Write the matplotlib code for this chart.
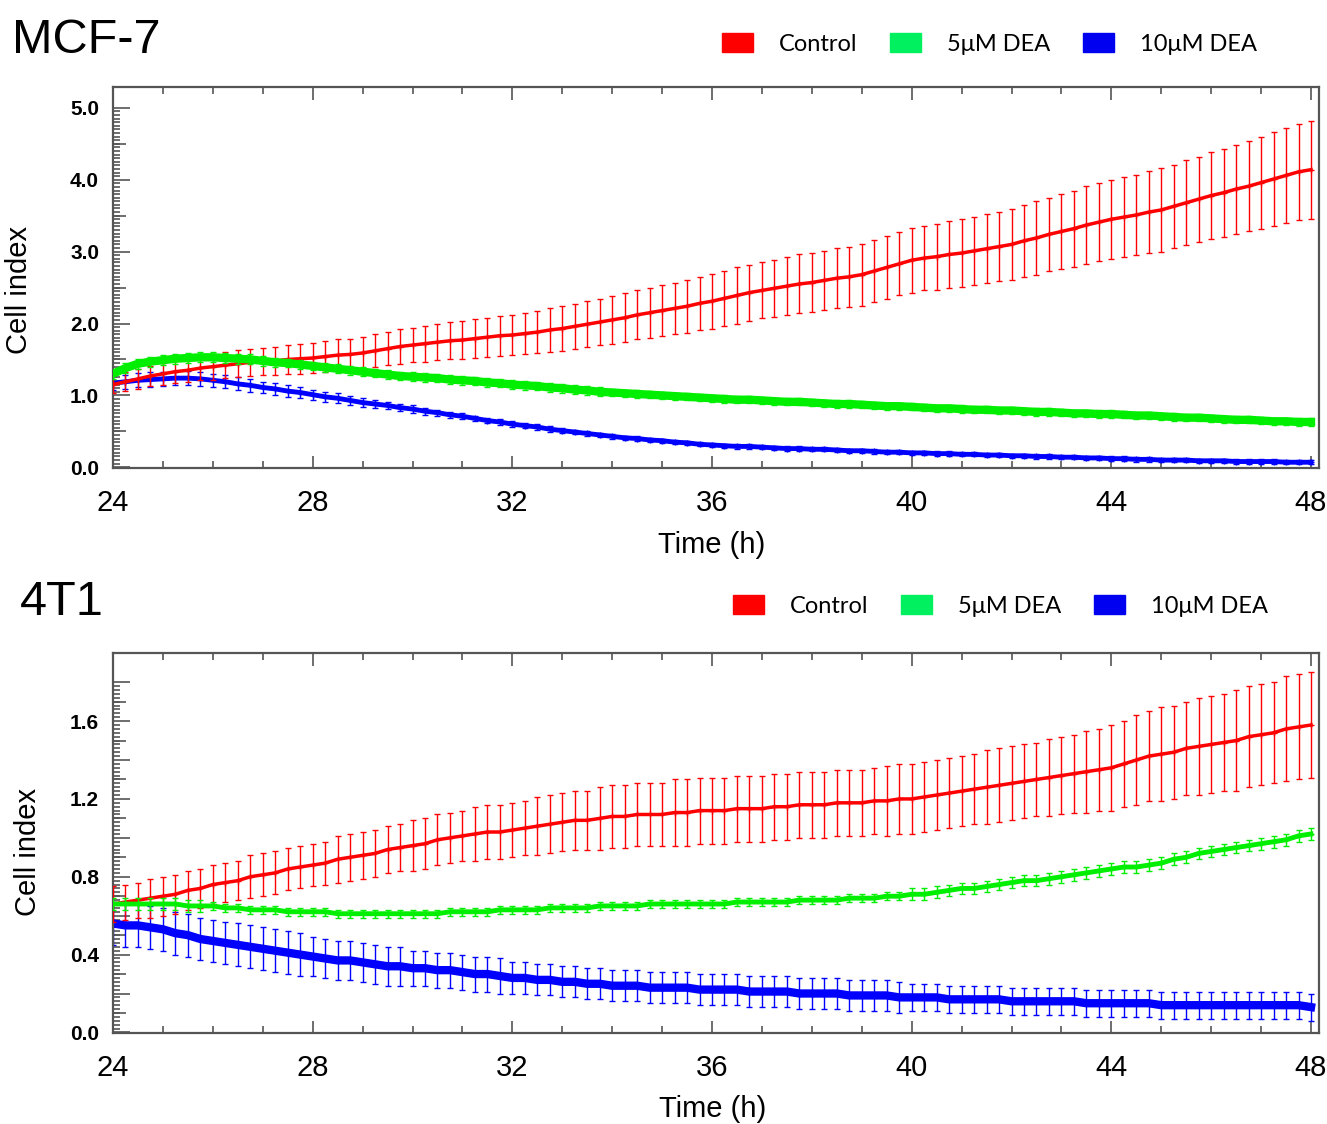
#!/usr/bin/env python
"""Cell index (real-time impedance) of MCF-7 and 4T1 cells from 24 to 48 h,
control vs 5 and 10 uM DEA. Mean +/- SD, one reading every 15 min.
"""
import numpy as np
import matplotlib
matplotlib.use('Agg')
import matplotlib.pyplot as plt
from matplotlib.patches import Patch

TIME = np.arange(24.0, 48.01, 0.25)     # h
GROUPS = ['Control', '5\u03bcM DEA', '10\u03bcM DEA']

# ── MCF-7 ──
MCF_CTRL = [
    1.15, 1.19, 1.23, 1.27, 1.30, 1.33, 1.35, 1.38,
    1.40, 1.42, 1.44, 1.46, 1.47, 1.48, 1.50, 1.51,
    1.52, 1.54, 1.56, 1.57, 1.59, 1.62, 1.65, 1.68,
    1.70, 1.72, 1.74, 1.76, 1.77, 1.79, 1.81, 1.83,
    1.84, 1.86, 1.88, 1.91, 1.93, 1.96, 1.99, 2.02,
    2.05, 2.08, 2.12, 2.15, 2.18, 2.21, 2.24, 2.28,
    2.31, 2.35, 2.39, 2.43, 2.46, 2.49, 2.52, 2.55,
    2.57, 2.60, 2.63, 2.65, 2.68, 2.73, 2.78, 2.83,
    2.88, 2.91, 2.93, 2.96, 2.98, 3.01, 3.04, 3.07,
    3.10, 3.15, 3.19, 3.24, 3.28, 3.32, 3.37, 3.41,
    3.45, 3.48, 3.51, 3.55, 3.58, 3.63, 3.68, 3.73,
    3.78, 3.82, 3.87, 3.91, 3.96, 4.01, 4.06, 4.11,
    4.14]
MCF_CTRL_SD = [
    0.12, 0.13, 0.14, 0.14, 0.15, 0.16, 0.17, 0.17,
    0.18, 0.18, 0.19, 0.19, 0.19, 0.20, 0.20, 0.21,
    0.21, 0.21, 0.22, 0.22, 0.22, 0.23, 0.23, 0.24,
    0.24, 0.25, 0.25, 0.26, 0.26, 0.27, 0.27, 0.28,
    0.28, 0.29, 0.29, 0.30, 0.31, 0.31, 0.32, 0.32,
    0.33, 0.34, 0.34, 0.35, 0.35, 0.36, 0.37, 0.37,
    0.38, 0.38, 0.39, 0.39, 0.39, 0.40, 0.40, 0.41,
    0.41, 0.41, 0.42, 0.42, 0.43, 0.43, 0.44, 0.44,
    0.45, 0.45, 0.46, 0.46, 0.47, 0.47, 0.48, 0.48,
    0.49, 0.50, 0.51, 0.51, 0.52, 0.53, 0.54, 0.54,
    0.55, 0.56, 0.56, 0.57, 0.58, 0.58, 0.59, 0.59,
    0.60, 0.61, 0.62, 0.63, 0.64, 0.65, 0.66, 0.67,
    0.68]
MCF_DEA5 = [
    1.30, 1.38, 1.44, 1.47, 1.49, 1.51, 1.52, 1.53,
    1.53, 1.52, 1.51, 1.50, 1.48, 1.46, 1.45, 1.43,
    1.41, 1.39, 1.37, 1.35, 1.33, 1.31, 1.29, 1.27,
    1.26, 1.25, 1.24, 1.22, 1.21, 1.20, 1.18, 1.17,
    1.15, 1.14, 1.13, 1.11, 1.10, 1.08, 1.07, 1.05,
    1.04, 1.03, 1.02, 1.01, 1.00, 0.99, 0.98, 0.97,
    0.96, 0.95, 0.94, 0.94, 0.93, 0.92, 0.91, 0.91,
    0.90, 0.89, 0.88, 0.88, 0.87, 0.86, 0.85, 0.85,
    0.84, 0.83, 0.82, 0.82, 0.81, 0.80, 0.80, 0.79,
    0.79, 0.78, 0.77, 0.77, 0.76, 0.75, 0.75, 0.74,
    0.74, 0.73, 0.72, 0.72, 0.71, 0.70, 0.69, 0.69,
    0.68, 0.67, 0.66, 0.66, 0.65, 0.64, 0.64, 0.63,
    0.63]
MCF_DEA5_SD = [
    0.07, 0.07, 0.07, 0.07, 0.07, 0.07, 0.07, 0.07,
    0.07, 0.07, 0.07, 0.07, 0.07, 0.06, 0.06, 0.06,
    0.06, 0.06, 0.06, 0.06, 0.06, 0.06, 0.06, 0.06,
    0.06, 0.06, 0.06, 0.06, 0.06, 0.06, 0.06, 0.06,
    0.06, 0.06, 0.06, 0.06, 0.06, 0.06, 0.06, 0.06,
    0.05, 0.05, 0.05, 0.05, 0.05, 0.05, 0.05, 0.05,
    0.05, 0.05, 0.05, 0.05, 0.05, 0.05, 0.05, 0.05,
    0.05, 0.05, 0.05, 0.05, 0.05, 0.05, 0.05, 0.05,
    0.05, 0.05, 0.05, 0.05, 0.05, 0.05, 0.05, 0.05,
    0.05, 0.05, 0.05, 0.05, 0.05, 0.05, 0.05, 0.05,
    0.05, 0.05, 0.05, 0.05, 0.05, 0.05, 0.05, 0.05,
    0.05, 0.05, 0.05, 0.05, 0.05, 0.05, 0.05, 0.05,
    0.05]
MCF_DEA10 = [
    1.17, 1.19, 1.21, 1.22, 1.23, 1.24, 1.24, 1.23,
    1.21, 1.19, 1.16, 1.14, 1.11, 1.09, 1.06, 1.04,
    1.01, 0.98, 0.96, 0.93, 0.90, 0.88, 0.86, 0.83,
    0.81, 0.78, 0.76, 0.73, 0.71, 0.68, 0.65, 0.63,
    0.60, 0.58, 0.56, 0.53, 0.51, 0.49, 0.47, 0.45,
    0.43, 0.41, 0.40, 0.38, 0.37, 0.35, 0.34, 0.32,
    0.31, 0.30, 0.29, 0.29, 0.28, 0.27, 0.26, 0.26,
    0.25, 0.25, 0.24, 0.23, 0.23, 0.22, 0.21, 0.21,
    0.20, 0.20, 0.19, 0.19, 0.18, 0.18, 0.17, 0.17,
    0.16, 0.16, 0.15, 0.15, 0.14, 0.14, 0.13, 0.13,
    0.12, 0.12, 0.11, 0.11, 0.10, 0.10, 0.10, 0.09,
    0.09, 0.09, 0.08, 0.08, 0.08, 0.08, 0.07, 0.07,
    0.07]
MCF_DEA10_SD = [
    0.10, 0.10, 0.10, 0.10, 0.10, 0.10, 0.10, 0.10,
    0.09, 0.09, 0.09, 0.09, 0.08, 0.08, 0.08, 0.08,
    0.07, 0.07, 0.07, 0.06, 0.06, 0.06, 0.05, 0.05,
    0.05, 0.05, 0.04, 0.04, 0.04, 0.04, 0.04, 0.04,
    0.04, 0.04, 0.04, 0.04, 0.03, 0.03, 0.03, 0.03,
    0.03, 0.03, 0.03, 0.03, 0.03, 0.03, 0.03, 0.03,
    0.03, 0.03, 0.03, 0.03, 0.03, 0.03, 0.03, 0.03,
    0.03, 0.03, 0.03, 0.03, 0.03, 0.03, 0.03, 0.03,
    0.03, 0.03, 0.03, 0.03, 0.03, 0.03, 0.03, 0.03,
    0.03, 0.03, 0.03, 0.03, 0.03, 0.03, 0.03, 0.03,
    0.03, 0.03, 0.03, 0.03, 0.03, 0.03, 0.03, 0.03,
    0.03, 0.03, 0.03, 0.03, 0.03, 0.03, 0.03, 0.03,
    0.03]

# ── 4T1 ──
T41_CTRL = [
    0.66, 0.67, 0.68, 0.69, 0.70, 0.71, 0.73, 0.74,
    0.76, 0.77, 0.78, 0.80, 0.81, 0.82, 0.84, 0.85,
    0.86, 0.87, 0.89, 0.90, 0.91, 0.92, 0.94, 0.95,
    0.96, 0.97, 0.99, 1.00, 1.01, 1.02, 1.03, 1.03,
    1.04, 1.05, 1.06, 1.07, 1.08, 1.09, 1.09, 1.10,
    1.11, 1.11, 1.12, 1.12, 1.12, 1.13, 1.13, 1.14,
    1.14, 1.14, 1.15, 1.15, 1.15, 1.16, 1.16, 1.17,
    1.17, 1.17, 1.18, 1.18, 1.18, 1.19, 1.19, 1.20,
    1.20, 1.21, 1.22, 1.23, 1.24, 1.25, 1.26, 1.27,
    1.28, 1.29, 1.30, 1.31, 1.32, 1.33, 1.34, 1.35,
    1.36, 1.38, 1.40, 1.42, 1.43, 1.44, 1.46, 1.47,
    1.48, 1.49, 1.50, 1.52, 1.53, 1.54, 1.56, 1.57,
    1.58]
T41_CTRL_SD = [
    0.09, 0.09, 0.09, 0.10, 0.10, 0.10, 0.10, 0.10,
    0.10, 0.10, 0.10, 0.11, 0.11, 0.11, 0.11, 0.11,
    0.11, 0.11, 0.12, 0.12, 0.12, 0.12, 0.12, 0.12,
    0.13, 0.13, 0.13, 0.13, 0.13, 0.14, 0.14, 0.14,
    0.14, 0.14, 0.15, 0.15, 0.15, 0.15, 0.15, 0.16,
    0.16, 0.16, 0.16, 0.16, 0.16, 0.17, 0.17, 0.17,
    0.17, 0.17, 0.17, 0.17, 0.17, 0.17, 0.17, 0.17,
    0.17, 0.17, 0.17, 0.17, 0.17, 0.17, 0.18, 0.18,
    0.18, 0.18, 0.18, 0.18, 0.18, 0.18, 0.19, 0.19,
    0.19, 0.19, 0.19, 0.20, 0.20, 0.20, 0.21, 0.21,
    0.22, 0.22, 0.23, 0.23, 0.24, 0.24, 0.24, 0.25,
    0.25, 0.25, 0.26, 0.26, 0.26, 0.26, 0.27, 0.27,
    0.27]
T41_DEA5 = [
    0.66, 0.66, 0.66, 0.66, 0.66, 0.66, 0.65, 0.65,
    0.65, 0.64, 0.64, 0.63, 0.63, 0.63, 0.62, 0.62,
    0.62, 0.62, 0.61, 0.61, 0.61, 0.61, 0.61, 0.61,
    0.61, 0.61, 0.61, 0.62, 0.62, 0.62, 0.62, 0.63,
    0.63, 0.63, 0.63, 0.64, 0.64, 0.64, 0.64, 0.65,
    0.65, 0.65, 0.65, 0.66, 0.66, 0.66, 0.66, 0.66,
    0.66, 0.66, 0.67, 0.67, 0.67, 0.67, 0.67, 0.68,
    0.68, 0.68, 0.68, 0.69, 0.69, 0.69, 0.70, 0.70,
    0.71, 0.71, 0.72, 0.73, 0.74, 0.74, 0.75, 0.76,
    0.77, 0.78, 0.78, 0.79, 0.80, 0.81, 0.82, 0.83,
    0.84, 0.85, 0.85, 0.86, 0.87, 0.89, 0.90, 0.92,
    0.93, 0.94, 0.95, 0.96, 0.97, 0.98, 0.99, 1.01,
    1.02]
T41_DEA5_SD = [
    0.03, 0.03, 0.03, 0.03, 0.03, 0.03, 0.03, 0.03,
    0.02, 0.02, 0.02, 0.02, 0.02, 0.02, 0.02, 0.02,
    0.02, 0.02, 0.02, 0.02, 0.02, 0.02, 0.02, 0.02,
    0.02, 0.02, 0.02, 0.02, 0.02, 0.02, 0.02, 0.02,
    0.02, 0.02, 0.02, 0.02, 0.02, 0.02, 0.02, 0.02,
    0.02, 0.02, 0.02, 0.02, 0.02, 0.02, 0.02, 0.02,
    0.02, 0.02, 0.02, 0.02, 0.02, 0.02, 0.02, 0.02,
    0.02, 0.02, 0.02, 0.02, 0.02, 0.02, 0.02, 0.02,
    0.03, 0.03, 0.03, 0.03, 0.03, 0.03, 0.03, 0.03,
    0.03, 0.03, 0.03, 0.03, 0.03, 0.03, 0.03, 0.03,
    0.03, 0.03, 0.03, 0.03, 0.03, 0.03, 0.03, 0.03,
    0.03, 0.03, 0.03, 0.03, 0.03, 0.03, 0.03, 0.03,
    0.03]
T41_DEA10 = [
    0.56, 0.55, 0.55, 0.54, 0.53, 0.51, 0.50, 0.48,
    0.47, 0.46, 0.45, 0.44, 0.43, 0.42, 0.41, 0.40,
    0.39, 0.38, 0.37, 0.37, 0.36, 0.35, 0.34, 0.34,
    0.33, 0.33, 0.32, 0.32, 0.31, 0.30, 0.30, 0.29,
    0.28, 0.28, 0.27, 0.27, 0.26, 0.26, 0.25, 0.25,
    0.24, 0.24, 0.24, 0.23, 0.23, 0.23, 0.23, 0.22,
    0.22, 0.22, 0.22, 0.21, 0.21, 0.21, 0.21, 0.20,
    0.20, 0.20, 0.20, 0.19, 0.19, 0.19, 0.19, 0.18,
    0.18, 0.18, 0.18, 0.17, 0.17, 0.17, 0.17, 0.17,
    0.16, 0.16, 0.16, 0.16, 0.16, 0.16, 0.15, 0.15,
    0.15, 0.15, 0.15, 0.15, 0.14, 0.14, 0.14, 0.14,
    0.14, 0.14, 0.14, 0.14, 0.14, 0.14, 0.14, 0.14,
    0.13]
T41_DEA10_SD = [
    0.11, 0.11, 0.11, 0.11, 0.11, 0.11, 0.11, 0.11,
    0.11, 0.11, 0.11, 0.11, 0.11, 0.11, 0.11, 0.11,
    0.10, 0.10, 0.10, 0.10, 0.10, 0.10, 0.10, 0.10,
    0.09, 0.09, 0.09, 0.09, 0.09, 0.09, 0.09, 0.09,
    0.08, 0.08, 0.08, 0.08, 0.08, 0.08, 0.08, 0.08,
    0.08, 0.08, 0.08, 0.08, 0.08, 0.08, 0.08, 0.08,
    0.08, 0.08, 0.08, 0.08, 0.08, 0.08, 0.08, 0.08,
    0.08, 0.08, 0.08, 0.08, 0.08, 0.08, 0.08, 0.08,
    0.07, 0.07, 0.07, 0.07, 0.07, 0.07, 0.07, 0.07,
    0.07, 0.07, 0.07, 0.07, 0.07, 0.07, 0.07, 0.07,
    0.07, 0.07, 0.07, 0.07, 0.07, 0.07, 0.07, 0.07,
    0.07, 0.07, 0.07, 0.07, 0.07, 0.07, 0.07, 0.07,
    0.07]

LINE_COLORS = ['#ff0000', '#00ee00', '#0000ff']
PATCH_COLORS = ['#ff0000', '#00f060', '#0000f0']
AXIS_GREY = '#555555'
W, H = 1327, 1124


def px_rect(left, top, right, bottom):
    """Figure-pixel box -> fig.add_axes rect."""
    return [left / W, 1 - bottom / H, (right - left) / W, (bottom - top) / H]


def style_axes(ax, ymax_tick, major, mid, minor, label_every, ylim):
    ax.set_xlim(24, 48.16)
    ax.set_ylim(*ylim)
    for s in ax.spines.values():
        s.set_color(AXIS_GREY)
        s.set_linewidth(1.6)

    ax.set_xticks(np.arange(24, 48.1, 4))
    ax.set_xticks(np.arange(24, 48.1, 1), minor=True)
    ax.tick_params(axis='x', which='both', direction='in', top=True,
                   color=AXIS_GREY, width=1.2, labelsize=21, pad=15)
    ax.tick_params(axis='x', which='major', length=9)
    ax.tick_params(axis='x', which='minor', length=5)

    yt = np.arange(0, ymax_tick + 1e-6, major)
    ylab = [f'{v:.1f}' if i % label_every == 0 else '' for i, v in enumerate(yt)]
    ax.set_yticks(yt, labels=ylab)
    ax.set_yticks(np.arange(0, ymax_tick + 1e-6, minor), minor=True)
    ax.tick_params(axis='y', which='both', direction='in', right=False,
                   color=AXIS_GREY, width=1.2, labelsize=15, pad=10)
    ax.tick_params(axis='y', which='major', length=12)
    ax.tick_params(axis='y', which='minor', length=5)
    for lab in ax.get_yticklabels():
        lab.set_fontweight('bold')

    # intermediate-length ticks
    sec = ax.secondary_yaxis('left')
    sec.set_yticks(np.arange(mid, ymax_tick, 2 * mid))
    sec.tick_params(direction='in', length=9, width=1.2, color=AXIS_GREY,
                    labelleft=False)
    sec.spines['left'].set_visible(False)


def plot_series(ax, means, sds, widths, zorders):
    for m, sd, c, lw, z in zip(means, sds, LINE_COLORS, widths, zorders):
        ax.errorbar(TIME, m, yerr=sd, fmt='-', marker='+', ms=5, mew=1,
                    lw=lw, color=c, ecolor=c, elinewidth=1.0,
                    capsize=2, capthick=1.0, zorder=z)


def add_legend(fig, x_px, y_px):
    handles = [Patch(facecolor=c, edgecolor=c) for c in PATCH_COLORS]
    fig.legend(handles, GROUPS, loc='center left',
               bbox_to_anchor=(x_px / W, 1 - y_px / H), ncol=3,
               frameon=False, prop={'family': 'Lato', 'size': 17},
               handlelength=1.3, handleheight=0.85, handletextpad=1.1,
               columnspacing=1.4, borderpad=0, borderaxespad=0)


def main():
    plt.rcParams['font.family'] = ['Liberation Sans', 'DejaVu Sans']
    fig = plt.figure(figsize=(W / 100, H / 100), dpi=100)

    # ── MCF-7 ──
    ax1 = fig.add_axes(px_rect(113, 87, 1319, 468))
    style_axes(ax1, 5.0, 1.0, 0.5, 0.05, 1, (-0.01, 5.29))
    plot_series(ax1, [MCF_CTRL, MCF_DEA5, MCF_DEA10],
                [MCF_CTRL_SD, MCF_DEA5_SD, MCF_DEA10_SD],
                [2.5, 6.0, 3.5], [3, 4, 2])
    ax1.set_xlabel('Time (h)', fontsize=21)
    ax1.xaxis.set_label_coords(0.496, -0.165)
    ax1.set_ylabel('Cell index', fontsize=21)
    ax1.yaxis.set_label_coords(-0.066, 0.467)
    fig.text(12 / W, 1 - 53 / H, 'MCF-7', fontsize=35, va='baseline')
    add_legend(fig, 722, 44)

    # ── 4T1 ──
    ax2 = fig.add_axes(px_rect(113, 653, 1319, 1033))
    style_axes(ax2, 1.8, 0.2, 0.1, 0.02, 2, (-0.003, 1.95))
    plot_series(ax2, [T41_CTRL, T41_DEA5, T41_DEA10],
                [T41_CTRL_SD, T41_DEA5_SD, T41_DEA10_SD],
                [2.5, 3.5, 6.0], [3, 4, 2])
    ax2.set_xlabel('Time (h)', fontsize=21)
    ax2.xaxis.set_label_coords(0.497, -0.163)
    ax2.set_ylabel('Cell index', fontsize=21)
    ax2.yaxis.set_label_coords(-0.059, 0.476)
    fig.text(20 / W, 1 - 615 / H, '4T1', fontsize=35, va='baseline')
    add_legend(fig, 733, 606)

    fig.savefig('out.png', dpi=100, facecolor='white')


if __name__ == '__main__':
    main()
